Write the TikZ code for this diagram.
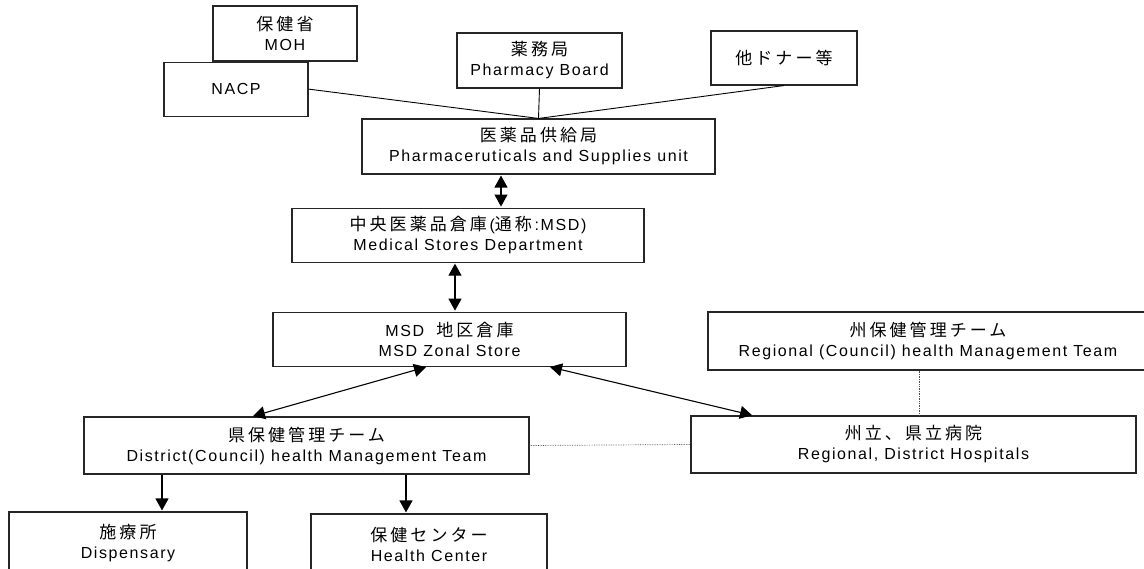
\documentclass[tikz,border=0pt]{standalone}
\usepackage{fontspec}
\setmainfont{Liberation Sans}[LetterSpace=10]
\newfontfamily\jpfont{Noto Sans CJK JP}[LetterSpace=18]
\newcommand{\jt}[1]{{\jpfont\fontsize{17}{20}\selectfont #1}}
\usetikzlibrary{positioning, arrows.meta}

\begin{document}
\begin{tikzpicture}[
    x=1pt, y=-1pt,
    box/.style={rectangle, draw=black!85, line width=1.1pt, inner sep=0pt, align=center,
                font=\fontsize{16}{20}\selectfont},
    arrow/.style={-{Triangle[length=12pt, width=13pt]}, line width=1.1pt, shorten >=1pt},
    dblarrow/.style={{Triangle[length=12pt, width=13pt]}-{Triangle[length=12pt, width=13pt]},
                line width=1.1pt, shorten >=1pt, shorten <=1pt},
    link/.style={line width=0.9pt},
    dotline/.style={densely dotted, line width=0.7pt, color=black!70}
]
\useasboundingbox (0,0) rectangle (1144,569);

% Ministry and donor nodes
\node[box, minimum width=144pt, minimum height=55pt] (MOH) at (285,33.5) {\jt{保健省}\\MOH};
\node[box, minimum width=144pt, minimum height=54pt, below=0pt of MOH, xshift=-49pt] (NACP) {NACP};
\node[box, minimum width=165pt, minimum height=55pt] (Board) at (539.5,60.5) {\jt{薬務局}\\Pharmacy Board};
\node[box, minimum width=146pt, minimum height=54pt] (Donor) at (784,58) {\jt{他ドナー等}};

% Supply chain nodes
\node[box, minimum width=353pt, minimum height=55pt] (Unit) at (538.5,146.5) {\jt{医薬品供給局}\\Pharmaceruticals and Supplies unit};
\node[box, minimum width=352pt, minimum height=54pt, below=33pt of Unit, xshift=-70.5pt] (MSD) {\jt{中央医薬品倉庫}\,(\jt{通称}\,:MSD)\\Medical Stores Department};
\node[box, minimum width=353pt, minimum height=54pt, below=49pt of MSD, xshift=-18.5pt] (Zonal) {MSD\ \ \jt{地区倉庫}\\MSD Zonal Store};

% Regional and district nodes
\node[box, minimum width=445pt, minimum height=57pt] (District) at (306.5,445.5) {\jt{県保健管理チーム}\\District(Council) health Management Team};
\node[box, minimum width=440pt, minimum height=58pt] (Regional) at (928,341) {\jt{州保健管理チーム}\\Regional (Council) health Management Team};
\node[box, minimum width=445pt, minimum height=57pt] (Hosp) at (913.5,444.5) {\jt{州立、県立病院}\\Regional, District Hospitals};

% Facility nodes
\node[box, minimum width=238pt, minimum height=62pt] (Disp) at (128,543) {\jt{施療所}\\Dispensary};
\node[box, minimum width=236pt, minimum height=60pt] (Health) at (429,544) {\jt{保健センター}\\Health Center};

% Links to the supplies unit
\draw[link] (NACP.east) -- (Unit.north);
\draw[link] (Board.south) -- (Unit.north);
\draw[link] (Donor.south) -- (Unit.north);

% Arrows
\draw[dblarrow] ([xshift=-37.5pt]Unit.south) -- ([xshift=33pt]MSD.north);
\draw[dblarrow] ([xshift=-13pt]MSD.south) -- ([xshift=5.5pt]Zonal.north);
\draw[dblarrow] ([xshift=-22.5pt]Zonal.south) -- ([xshift=-54.5pt]District.north);
\draw[dblarrow] ([xshift=99.5pt]Zonal.south) -- ([xshift=-160.5pt]Hosp.north);
\draw[arrow] ([xshift=-144.5pt]District.south) -- ([xshift=34pt]Disp.north);
\draw[arrow] ([xshift=99.5pt]District.south) -- ([xshift=-23pt]Health.north);

% Dotted relations
\draw[dotline] ([xshift=-9pt]Regional.south) -- ([xshift=5.5pt]Hosp.north);
\draw[dotline] (District.east) -- (Hosp.west);

\end{tikzpicture}
\end{document}
